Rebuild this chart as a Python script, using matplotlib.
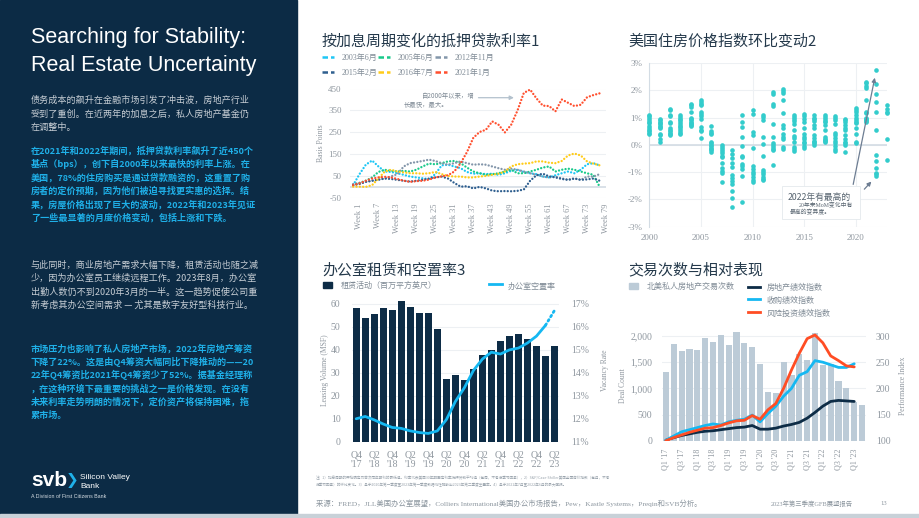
import matplotlib
matplotlib.use("Agg")
import matplotlib.pyplot as plt
from matplotlib.patches import Rectangle, FancyArrowPatch
from matplotlib.lines import Line2D

CJK = ['Noto Sans CJK SC', 'DejaVu Sans']
SERIF = ['Liberation Serif', 'Noto Sans CJK SC']
plt.rcParams['font.family'] = CJK
plt.rcParams['axes.unicode_minus'] = False

# ---------------- data ----------------
# chart 1: mortgage rate change by hiking cycle (bps), every 2 weeks
rate_weeks = list(range(0, 80, 2))
rate_names = ['2003年6月', '2005年6月', '2012年11月', '2015年2月', '2016年7月', '2021年1月']
rate_2003 = [10, 60, 103, 122, 95, 72, 70, 64, 57, 49, 45, 41, 38, 60, 100, 103, 95, 87, 70, 62,
             64, 60, 62, 57, 64, 75, 80, 70, 64, 60, 49, 45, 55, 64, 72, 64, 80, 105, 110, 100]
rate_2005 = [10, 20, 30, 45, 70, 80, 75, 72, 75, 72, 80, 95, 108, 105, 110, 118, 120, 110, 90, 72,
             64, 57, 60, 64, 72, 80, 64, 64, 72, 80, 90, 95, 72, 80, 85, 80, 72, 64, 57, 2]
rate_2012 = [15, 20, 25, 30, 35, 40, 50, 60, 95, 110, 115, 120, 126, 120, 110, 103, 110, 118, 110, 103,
             105, 103, 95, 87, 80, 85, 80, 72, 64, 57, 49, 45, 49, 41, 34, 41, 34, 49, 49, 60]
rate_2015 = [10, 15, 25, 30, 35, 40, 38, 34, 30, 26, 30, 34, 40, 45, 49, 40, 20, 3, 5, -5,
             2, -5, -15, -18, -17, -18, -16, -10, 30, 55, 62, 50, 45, 38, 34, 40, 34, 36, 40, 30]
rate_2016 = [3, 3, 2, 10, 40, 72, 80, 72, 68, 64, 64, 62, 64, 70, 60, 52, 49, 49, 45, 45,
             49, 52, 57, 62, 72, 95, 105, 108, 110, 118, 118, 112, 110, 120, 145, 154, 145, 118, 108, 100]
rate_2021 = [10, 18, 30, 40, 45, 48, 45, 38, 30, 25, 28, 30, 35, 45, 50, 55, 72, 110, 160, 225,
             252, 262, 300, 285, 250, 285, 350, 430, 445, 405, 372, 370, 346, 400, 385, 370, 376, 410, 420, 428]
rate_ticks = [2, 8, 14, 20, 26, 32, 38, 44, 50, 56, 62, 68, 74, 80]
rate_tick_labels = ['Week 1', 'Week 7', 'Week 13', 'Week 19', 'Week 25', 'Week 31', 'Week 37',
                    'Week 43', 'Week 49', 'Week 55', 'Week 61', 'Week 67', 'Week 73', 'Week 79']

# chart 2: monthly change of US house price index (%)
hpi_years = list(range(2000, 2024))
hpi_mom = [
    [1.1, 1.05, 1.0, 0.9, 0.85, 0.8, 0.7, 0.6, 0.55, 0.5, 0.45, 0.4],
    [0.95, 0.9, 0.85, 0.8, 0.75, 0.7, 0.65, 0.6, 0.4, 0.35, 0.2, 0.12],
    [1.32, 1.28, 1.1, 1.05, 0.85, 0.8, 0.6, 0.55, 0.5, 0.45, 0.4, 0.35],
    [1.08, 1.02, 0.95, 0.9, 0.85, 0.78, 0.7, 0.65, 0.58, 0.5, 0.45, 0.4],
    [1.5, 1.45, 1.4, 1.2, 1.0, 0.95, 0.9, 0.85, 0.8, 0.75, 0.72, 0.7],
    [1.65, 1.58, 1.5, 1.45, 1.2, 1.12, 1.05, 0.95, 0.65, 0.55, 0.5, 0.25],
    [0.7, 0.5, 0.42, 0.38, 0.12, 0.05, 0.0, -0.05, -0.1, -0.15, -0.2, -0.25],
    [-0.02, -0.08, -0.15, -0.22, -0.3, -0.4, -0.45, -0.65, -0.85, -0.95, -1.05, -1.35],
    [-0.2, -0.35, -0.5, -0.66, -0.82, -1.1, -1.2, -1.32, -1.45, -1.7, -1.95, -2.28],
    [1.08, 0.85, 0.65, 0.3, -0.05, -0.4, -0.45, -0.7, -0.78, -0.88, -1.15, -2.08],
    [1.26, 1.14, 0.47, 0.37, -0.1, -0.78, -0.88, -0.98, -1.08, -1.18, -1.28, -1.35],
    [1.1, 1.02, 0.92, 0.28, 0.03, -0.4, -0.92, -1.0, -1.08, -1.18, -1.25, -1.28],
    [1.92, 1.85, 1.5, 1.42, 0.77, 0.3, 0.05, -0.02, -0.08, -0.15, -0.2, -0.75],
    [2.05, 1.97, 1.9, 1.66, 1.18, 0.72, 0.62, 0.38, 0.28, 0.2, -0.08, -0.14],
    [1.1, 1.02, 0.95, 0.89, 0.75, 0.53, 0.34, 0.24, 0.12, -0.08, -0.17, -0.23],
    [1.12, 1.05, 0.95, 0.85, 0.6, 0.4, 0.3, 0.22, 0.12, 0.05, -0.05, -0.12],
    [1.08, 1.0, 0.95, 0.86, 0.72, 0.6, 0.35, 0.25, 0.15, 0.1, 0.05, -0.02],
    [1.08, 1.02, 0.95, 0.88, 0.83, 0.72, 0.56, 0.3, 0.22, 0.18, 0.14, 0.12],
    [1.04, 0.97, 0.9, 0.75, 0.44, 0.35, 0.25, 0.15, 0.07, -0.05, -0.15, -0.23],
    [0.95, 0.9, 0.85, 0.72, 0.6, 0.53, 0.35, 0.2, 0.12, 0.05, 0.0, -0.27],
    [1.36, 1.28, 1.2, 1.1, 1.0, 0.92, 0.85, 0.8, 0.62, 0.38, 0.1, 0.07],
    [2.32, 2.25, 2.15, 2.1, 1.65, 1.22, 1.18, 1.0, 0.95, 0.9, 0.86, 0.82],
    [2.73, 2.24, 1.85, 1.57, 1.2, 0.56, -0.37, -0.61, -0.86, -1.02, -1.08, -1.15],
    [1.45, 1.3, 1.22, 1.18, 0.22, -0.55],
]

# chart 3: office leasing (MSF) and vacancy (%)
office_quarters = ["Q4\n'17", "Q1\n'18", "Q2\n'18", "Q3\n'18", "Q4\n'18", "Q1\n'19", "Q2\n'19", "Q3\n'19",
                   "Q4\n'19", "Q1\n'20", "Q2\n'20", "Q3\n'20", "Q4\n'20", "Q1\n'21", "Q2\n'21", "Q3\n'21",
                   "Q4\n'21", "Q1\n'22", "Q2\n'22", "Q3\n'22", "Q4\n'22", "Q1\n'23", "Q2\n'23"]
leasing = [58.4, 53.8, 55.6, 58.4, 57.5, 61.4, 58.6, 55.9, 56.1, 49.0, 27.3, 29.2, 27.0, 31.7,
           37.8, 39.8, 43.7, 46.1, 46.9, 44.6, 41.7, 37.3, 41.7]
vacancy = [12.0, 12.1, 11.95, 11.77, 11.62, 11.58, 11.47, 11.4, 11.36, 11.47, 11.96, 12.75, 13.35,
           14.1, 14.6, 14.9, 14.82, 15.0, 15.08, 15.3, 15.6, 16.07, 16.72]

# chart 4: deal count and performance indices
deal_quarters = ["Q1 '17", "Q2 '17", "Q3 '17", "Q4 '17", "Q1 '18", "Q2 '18", "Q3 '18", "Q4 '18",
                 "Q1 '19", "Q2 '19", "Q3 '19", "Q4 '19", "Q1 '20", "Q2 '20", "Q3 '20", "Q4 '20",
                 "Q1 '21", "Q2 '21", "Q3 '21", "Q4 '21", "Q1 '22", "Q2 '22", "Q3 '22", "Q4 '22",
                 "Q1 '23", "Q2 '23"]
deal_count = [1320, 1850, 1720, 1760, 1730, 1955, 1880, 2025, 1830, 2075, 1860, 1785, 1470, 930,
              915, 1500, 1255, 1650, 1540, 2050, 1445, 1465, 1140, 1000, 745, 680]
idx_real_estate = [101, 106, 110, 113, 116, 118, 119, 121, 123, 125, 126, 129, 122, 122, 124, 128,
                   131, 135, 143, 154, 166, 175, 177, 176, 175]
idx_buyout = [101, 109, 117, 121, 125, 129, 132, 130, 136, 139, 141, 149, 136, 152, 166, 185, 200,
              225, 232, 253, 250, 245, 240, 240, 247]
idx_venture = [100, 106, 111, 116, 120, 124, 125, 129, 134, 138, 139, 148, 141, 159, 171, 200, 235,
               267, 295, 302, 287, 262, 253, 243, 241]

# ---------------- style ----------------
NAVY = '#0c2b45'
PANEL_TEXT = '#c6cdd4'
CYAN_TEXT = '#1fb0e8'
TITLE = '#24394b'
TICK = '#8f979f'
GRID = '#edf0f3'
RATE_COLORS = ['#1ec6f5', '#19c98a', '#8396aa', '#2f5f8f', '#ffcc1a', '#ff4f2e']
TEAL = '#33cccc'
BAR_NAVY = '#0d2c46'
LINE_CYAN = '#15b8f2'
BAR_GREY = '#bccbd7'
ORANGE = '#ff4d24'

W, H = 920, 518
fig = plt.figure(figsize=(9.2, 5.18), dpi=100)
fig.patch.set_facecolor('white')


def rect(l, t, r, b):
    return [l / W, 1 - b / H, (r - l) / W, (b - t) / H]


def ftxt(x, y, s, **kw):
    return fig.text(x / W, 1 - y / H, s, **kw)


def style_ticks(ax):
    ax.tick_params(length=0, labelsize=6.5, labelcolor=TICK)
    for lab in ax.get_xticklabels() + ax.get_yticklabels():
        lab.set_family(SERIF)
    for s in ax.spines.values():
        s.set_visible(False)


# ---------------- left panel ----------------
fig.patches.append(Rectangle((0, 0), 297 / W, 1, transform=fig.transFigure, color=NAVY, zorder=0))
fig.patches.append(Rectangle((0, 0), 1, 4 / H, transform=fig.transFigure, color='#c8d1d8', zorder=0))

ftxt(31, 38, 'Searching for Stability:', color='white', fontsize=15.5,
     family=['Liberation Sans'], va='center')
ftxt(31, 65, 'Real Estate Uncertainty', color='white', fontsize=15.5,
     family=['Liberation Sans'], va='center')

p1 = ['债务成本的飙升在金融市场引发了冲击波，房地产行业',
      '受到了重创。在近两年的加息之后，私人房地产基金仍',
      '在调整中。']
p2 = ['在2021年和2022年期间，抵押贷款利率飙升了近450个',
      '基点（bps），创下自2000年以来最快的利率上涨。在',
      '美国，78%的住房购买是通过贷款融资的，这重置了购',
      '房者的定价预期，因为他们被迫寻找更实惠的选择。结',
      '果，房屋价格出现了巨大的波动，2022年和2023年见证',
      '了一些最显著的月度价格变动，包括上涨和下跌。']
p3 = ['与此同时，商业房地产需求大幅下降，租赁活动也随之减',
      '少，因为办公室员工继续远程工作。2023年8月，办公室',
      '出勤人数仍不到2020年3月的一半。这一趋势促使公司重',
      '新考虑其办公空间需求 — 尤其是数字友好型科技行业。']
p4 = ['市场压力也影响了私人房地产市场，2022年房地产筹资',
      '下降了22%。这是由Q4筹资大幅同比下降推动的——20',
      '22年Q4筹资比2021年Q4筹资少了52%。据基金经理称',
      '，在这种环境下最重要的挑战之一是价格发现。在没有',
      '未来利率走势明朗的情况下，定价资产将保持困难，拖',
      '累市场。']

for lines, y0, col, wt in [(p1, 100.7, PANEL_TEXT, 'normal'), (p2, 150.7, CYAN_TEXT, 'bold'),
                           (p3, 265, PANEL_TEXT, 'normal'), (p4, 348.3, CYAN_TEXT, 'bold')]:
    for i, line in enumerate(lines):
        ftxt(31, y0 + i * 13.45, line, color=col, fontsize=6.55, fontweight=wt, va='center')

ftxt(31, 481, 'svb', color='white', fontsize=15, fontweight='bold', family=['Liberation Sans'], va='center')
ftxt(66, 481, '❯', color='#1fb0e8', fontsize=11, fontweight='bold', family=['DejaVu Sans'], va='center')
ftxt(80, 481, 'Silicon Valley', color='white', fontsize=6.0, family=['Liberation Sans'], va='bottom')
ftxt(80, 482.5, 'Bank', color='white', fontsize=6.0, family=['Liberation Sans'], va='top')
ftxt(31, 497, 'A Division of First Citizens Bank', color='#d6dde3', fontsize=3.8,
     family=['Liberation Sans'], va='center')

# ---------------- chart 1: mortgage rates ----------------
ftxt(322, 41, '按加息周期变化的抵押贷款利率1', color=TITLE, fontsize=10.8, va='center')
leg_x = [322, 378, 435]
leg_y = [57, 72]
for i, name in enumerate(rate_names):
    x0, y0 = leg_x[i % 3], leg_y[i // 3]
    fig.add_artist(Line2D([x0 / W, (x0 + 12) / W], [1 - y0 / H] * 2, color=RATE_COLORS[i],
                          lw=1.8, linestyle=(0, (2.2, 1.2))))
    ftxt(x0 + 20, y0 + 1, name, color='#7f8a95', fontsize=5.8, family=SERIF, va='center')

ax1 = fig.add_axes(rect(350, 88.5, 606, 198.3))
for vals, c in zip([rate_2003, rate_2005, rate_2012, rate_2015, rate_2016, rate_2021], RATE_COLORS):
    ax1.plot(rate_weeks, vals, color=c, lw=1.7, linestyle=(0, (0.01, 1.4)),
             dash_capstyle='round', clip_on=False)
ax1.set_xlim(-1, 80)
ax1.set_ylim(-50, 450)
ax1.set_yticks([-50, 50, 150, 250, 350, 450])
ax1.yaxis.grid(True, color=GRID, lw=0.8)
ax1.axhline(0, color='#d3dce4', lw=1.2, zorder=0)
ax1.set_axisbelow(True)
ax1.set_xticks(rate_ticks)
ax1.set_xticklabels(rate_tick_labels, rotation=90, va='top')
style_ticks(ax1)
ax1.tick_params(axis='x', labelsize=6)
ax1.tick_params(axis='y', pad=6)
ax1.set_ylabel('Basis Points', fontsize=5.5, color=TICK, family=SERIF, labelpad=2)
ftxt(422, 96, '自2000年以来，增', color='#7f8a95', fontsize=4.6, va='center')
ftxt(404, 105, '长最快，最大。', color='#7f8a95', fontsize=4.6, va='center')
fig.add_artist(FancyArrowPatch(
    (475.7 / W, 1 - 97.7 / H), (516.7 / W, 1 - 97.7 / H), transform=fig.transFigure,
    arrowstyle='-|>', mutation_scale=6, color='#b3c1cd', lw=0.9))

# ---------------- chart 2: house price index ----------------
ftxt(628, 41, '美国住房价格指数环比变动2', color=TITLE, fontsize=10.8, va='center')
ax2 = fig.add_axes(rect(649.3, 63, 886.7, 226.7))
for yr, vals in zip(hpi_years, hpi_mom):
    ax2.scatter([yr] * len(vals), vals, s=11, color=TEAL, linewidths=0, clip_on=False, zorder=3)
ax2.set_xlim(2000, 2023)
ax2.set_ylim(-3, 3)
ax2.set_yticks([-3, -2, -1, 0, 1, 2, 3])
ax2.set_yticklabels(['-3%', '-2%', '-1%', '0%', '1%', '2%', '3%'])
ax2.set_xticks([2000, 2005, 2010, 2015, 2020])
ax2.grid(True, color=GRID, lw=0.8)
ax2.set_axisbelow(True)
ax2.axhline(0, color='#d3dce4', lw=1.2, zorder=1)
style_ticks(ax2)
ax2.spines['left'].set_visible(True)
ax2.spines['left'].set_color('#d3dce4')
ax2.tick_params(axis='y', pad=5)
ax2.tick_params(axis='x', pad=5)
ax2.add_patch(Rectangle((2012.9, -2.72), 7.5, 1.22, facecolor='white', edgecolor='#e4e9ed',
                        lw=0.6, zorder=4))
ax2.text(2013.4, -1.92, '2022年有最高的', fontsize=6.3, color='#56636f', va='center', zorder=5)
ax2.text(2014.5, -2.2, '20年来MoM变化中有', fontsize=4.2, color='#56636f', va='center',
         family=SERIF, zorder=5)
ax2.text(2013.6, -2.46, '最高的变异度。', fontsize=4.2, color='#56636f', va='center', zorder=5)
ax2.annotate('', xy=(2021.9, 2.56), xytext=(2019.7, -1.55),
             arrowprops=dict(arrowstyle='-|>', color='#6d7d92', lw=0.9, mutation_scale=6), zorder=5)
ax2.annotate('', xy=(2021.7, -1.27), xytext=(2020.65, -1.7),
             arrowprops=dict(arrowstyle='-|>', color='#6d7d92', lw=0.9, mutation_scale=6), zorder=5)

# ---------------- chart 3: office leasing ----------------
ftxt(322, 270, '办公室租赁和空置率3', color=TITLE, fontsize=10.8, va='center')
fig.patches.append(Rectangle((323 / W, 1 - 288 / H), 9 / W, 6 / H, transform=fig.transFigure,
                             color=BAR_NAVY))
ftxt(341, 285, '租赁活动（百万平方英尺）', color='#7f8a95', fontsize=5.8, va='center')
fig.add_artist(Line2D([489 / W, 502 / W], [1 - 283.5 / H] * 2, color=LINE_CYAN, lw=2))
ftxt(508, 286, '办公室空置率', color='#7f8a95', fontsize=5.8, va='center')

ax3 = fig.add_axes(rect(351.7, 299.4, 559, 441.7))
xq = list(range(len(leasing)))
ax3.bar(xq, leasing, width=0.8, color=BAR_NAVY, zorder=2)
ax3.set_xlim(-0.5, len(leasing) - 0.5)
ax3.set_ylim(0, 62)
ax3.set_yticks([0, 10, 20, 30, 40, 50, 60])
ax3.yaxis.grid(True, color=GRID, lw=0.8)
ax3.set_axisbelow(True)
ax3.set_xticks(xq[::2])
ax3.set_xticklabels(office_quarters[::2], linespacing=1.1)
style_ticks(ax3)
ax3.tick_params(axis='both', labelsize=7)
ax3.tick_params(axis='x', pad=6)
ax3.tick_params(axis='y', pad=8)
ax3.set_ylabel('Leasing Volume (MSF)', fontsize=5.5, color=TICK, family=SERIF, labelpad=1)
ax3r = ax3.twinx()
ax3r.plot(xq[:-1], vacancy[:-1], color=LINE_CYAN, lw=2, zorder=3, solid_capstyle='round')
ax3r.plot(xq[-2:], vacancy[-2:], color=LINE_CYAN, lw=2, linestyle=(0, (0.6, 1.2)),
          dash_capstyle='round', zorder=3)
ax3r.set_ylim(11, 17.2)
ax3r.set_yticks([11, 12, 13, 14, 15, 16, 17])
ax3r.set_yticklabels(['11%', '12%', '13%', '14%', '15%', '16%', '17%'])
style_ticks(ax3r)
ax3r.tick_params(axis='y', labelsize=7, pad=9)
ax3r.set_ylabel('Vacancy Rate', fontsize=5.5, color=TICK, family=SERIF, labelpad=8)

# ---------------- chart 4: deal count ----------------
ftxt(628, 270, '交易次数与相对表现', color=TITLE, fontsize=10.8, va='center')
fig.patches.append(Rectangle((629 / W, 1 - 289 / H), 9 / W, 6 / H, transform=fig.transFigure,
                             color=BAR_GREY))
ftxt(647, 286.5, '北美私人房地产交易次数', color='#7f8a95', fontsize=5.8, va='center')
for yy, name, c in [(286.7, '房地产绩效指数', BAR_NAVY), (299, '收购绩效指数', LINE_CYAN),
                    (312.3, '风险投资绩效指数', ORANGE)]:
    fig.add_artist(Line2D([748 / W, 760 / W], [1 - yy / H] * 2, color=c, lw=2))
    ftxt(767, yy + 1, name, color='#7f8a95', fontsize=5.8, va='center')

ax4 = fig.add_axes(rect(662, 330.8, 866, 440.7))
xd = list(range(len(deal_count)))
ax4.bar(xd, deal_count, width=0.78, color=BAR_GREY, zorder=2)
ax4.set_xlim(-0.5, len(deal_count) - 0.5)
ax4.set_ylim(0, 2100)
ax4.set_yticks([0, 500, 1000, 1500, 2000])
ax4.set_yticklabels(['0', '500', '1,000', '1,500', '2,000'])
ax4.yaxis.grid(True, color=GRID, lw=0.8)
ax4.set_axisbelow(True)
ax4.set_xticks(xd[::2][:13])
ax4.set_xticklabels(deal_quarters[::2][:13], rotation=90, va='top')
style_ticks(ax4)
ax4.tick_params(axis='y', labelsize=7, pad=7)
ax4.tick_params(axis='x', labelsize=5.8, pad=6)
ax4.set_ylabel('Deal Count', fontsize=5.5, color=TICK, family=SERIF, labelpad=2)
ax4r = ax4.twinx()
xi = list(range(len(idx_real_estate)))
for vals, c in [(idx_real_estate, BAR_NAVY), (idx_buyout, LINE_CYAN), (idx_venture, ORANGE)]:
    ax4r.plot(xi, vals, color=c, lw=2, zorder=3, solid_capstyle='round', solid_joinstyle='round')
ax4r.set_ylim(100, 310)
ax4r.set_yticks([100, 150, 200, 250, 300])
style_ticks(ax4r)
ax4r.tick_params(axis='y', labelsize=7, pad=7)
ax4r.set_ylabel('Performance Index', fontsize=5.5, color=TICK, family=SERIF, labelpad=6)

# ---------------- footer ----------------
note1 = ('注：1）加息周期的开始确定为首次同年期利的最低值。利率代表美国30年期固定利率抵押贷款平均值（每周，不考虑季节因素），'
         '2）S&P/Case-Shiller美国全国房价指数（每月，不考')
note2 = ('虑季节因素）的环比变化。3）基于2020年第一季度至2023年第一季度数据线性推断出2023年第二季度空置率。'
         '4）基于2021年7月至2022年6月的最大回报。')
ftxt(316, 477.5, note1, color='#9aa4ad', fontsize=2.65, va='center')
ftxt(316, 485.5, note2, color='#9aa4ad', fontsize=2.65, va='center')
ftxt(316, 503.5, '来源：FRED，JLL美国办公室展望，Colliers International美国办公市场报告，Pew，Kastle Systems，Preqin和SVB分析。',
     color='#8c969f', fontsize=5.3, va='center', family=SERIF)
ftxt(771, 503.5, '2023年第三季度GFB展望报告', color='#8c969f', fontsize=4.6, va='center', family=SERIF)
ftxt(880, 503.5, '13', color='#8c969f', fontsize=4.8, va='center', family=SERIF)

fig.savefig('out.png', dpi=100)
